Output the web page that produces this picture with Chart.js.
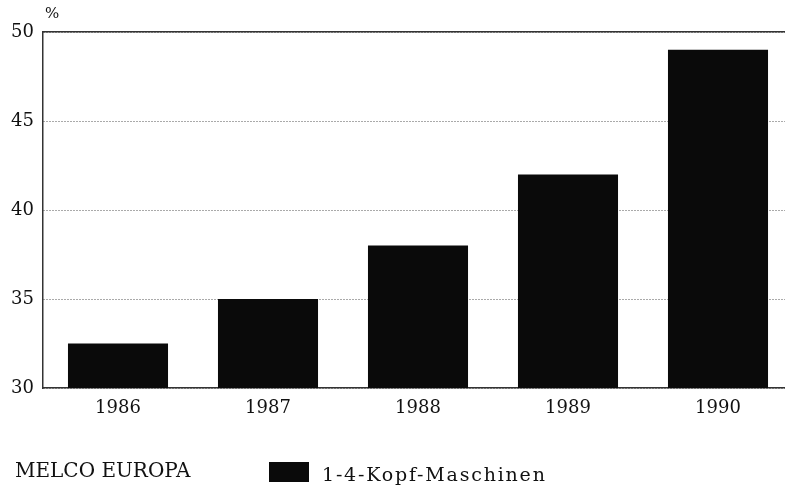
<!DOCTYPE html>
<html>
<head>
<meta charset="utf-8">
<script src="https://cdn.jsdelivr.net/npm/chart.js@4/dist/chart.umd.min.js"></script>
<style>
  html, body { margin: 0; padding: 0; background: #fff; overflow: hidden; }
  #wrap { position: relative; width: 785px; height: 486px; overflow: hidden; }
  canvas { position: absolute; left: 0; top: 0; }
  .txt { position: absolute; font-family: "DejaVu Serif", serif; color: #111; white-space: nowrap; line-height: 1; }
</style>
</head>
<body>
<div id="wrap">
  <canvas id="chart" width="800" height="486"></canvas>
  <div class="txt" style="left:45px; top:6px; font-size:15px;">%</div>
  <div class="txt" style="left:15px; top:460px; font-size:20px;">MELCO EUROPA</div>
  <div style="position:absolute; left:269px; top:462px; width:40px; height:20px; background:#0a0a0a;"></div>
  <div class="txt" style="left:322px; top:465px; font-size:19px; letter-spacing:1.8px;">1-4-Kopf-Maschinen</div>
</div>
<script>
// values
const years = ["1986", "1987", "1988", "1989", "1990"];
const shares = [32.5, 35, 38, 42, 49];
const yTicks = [30, 35, 40, 45, 50];

const serif = '"DejaVu Serif", serif';

new Chart(document.getElementById('chart'), {
  type: 'bar',
  data: {
    labels: years,
    datasets: [{
      label: '1-4-Kopf-Maschinen',
      data: shares,
      backgroundColor: '#0a0a0a',
      borderWidth: 0,
      barPercentage: 0.667,
      categoryPercentage: 1
    }]
  },
  options: {
    responsive: false,
    animation: false,
    layout: { padding: { top: 32, left: 0, right: 7, bottom: 58 } },
    plugins: { legend: { display: false }, tooltip: { enabled: false } },
    scales: {
      x: {
        grid: { display: false, drawTicks: false },
        border: { display: true, color: '#333', width: 1.5 },
        ticks: { color: '#111', font: { family: serif, size: 18 }, padding: 10 },
        afterFit: (s) => { s.height = 40; }
      },
      xTop: {
        position: 'top',
        labels: years,
        grid: { display: false, drawTicks: false },
        border: { display: true, color: '#333', width: 1.5 },
        ticks: { display: false },
        afterFit: (s) => { s.height = 0; }
      },
      y: {
        min: 30,
        max: 50,
        afterBuildTicks: (s) => { s.ticks = yTicks.map(v => ({ value: v })); },
        grid: { color: '#555', lineWidth: 1, drawTicks: false },
        border: { display: true, color: '#333', width: 1.5, dash: [1, 2] },
        ticks: { color: '#111', font: { family: serif, size: 18 }, padding: 9 },
        afterFit: (s) => { s.width = 43; }
      }
    }
  }
});
</script>
</body>
</html>
